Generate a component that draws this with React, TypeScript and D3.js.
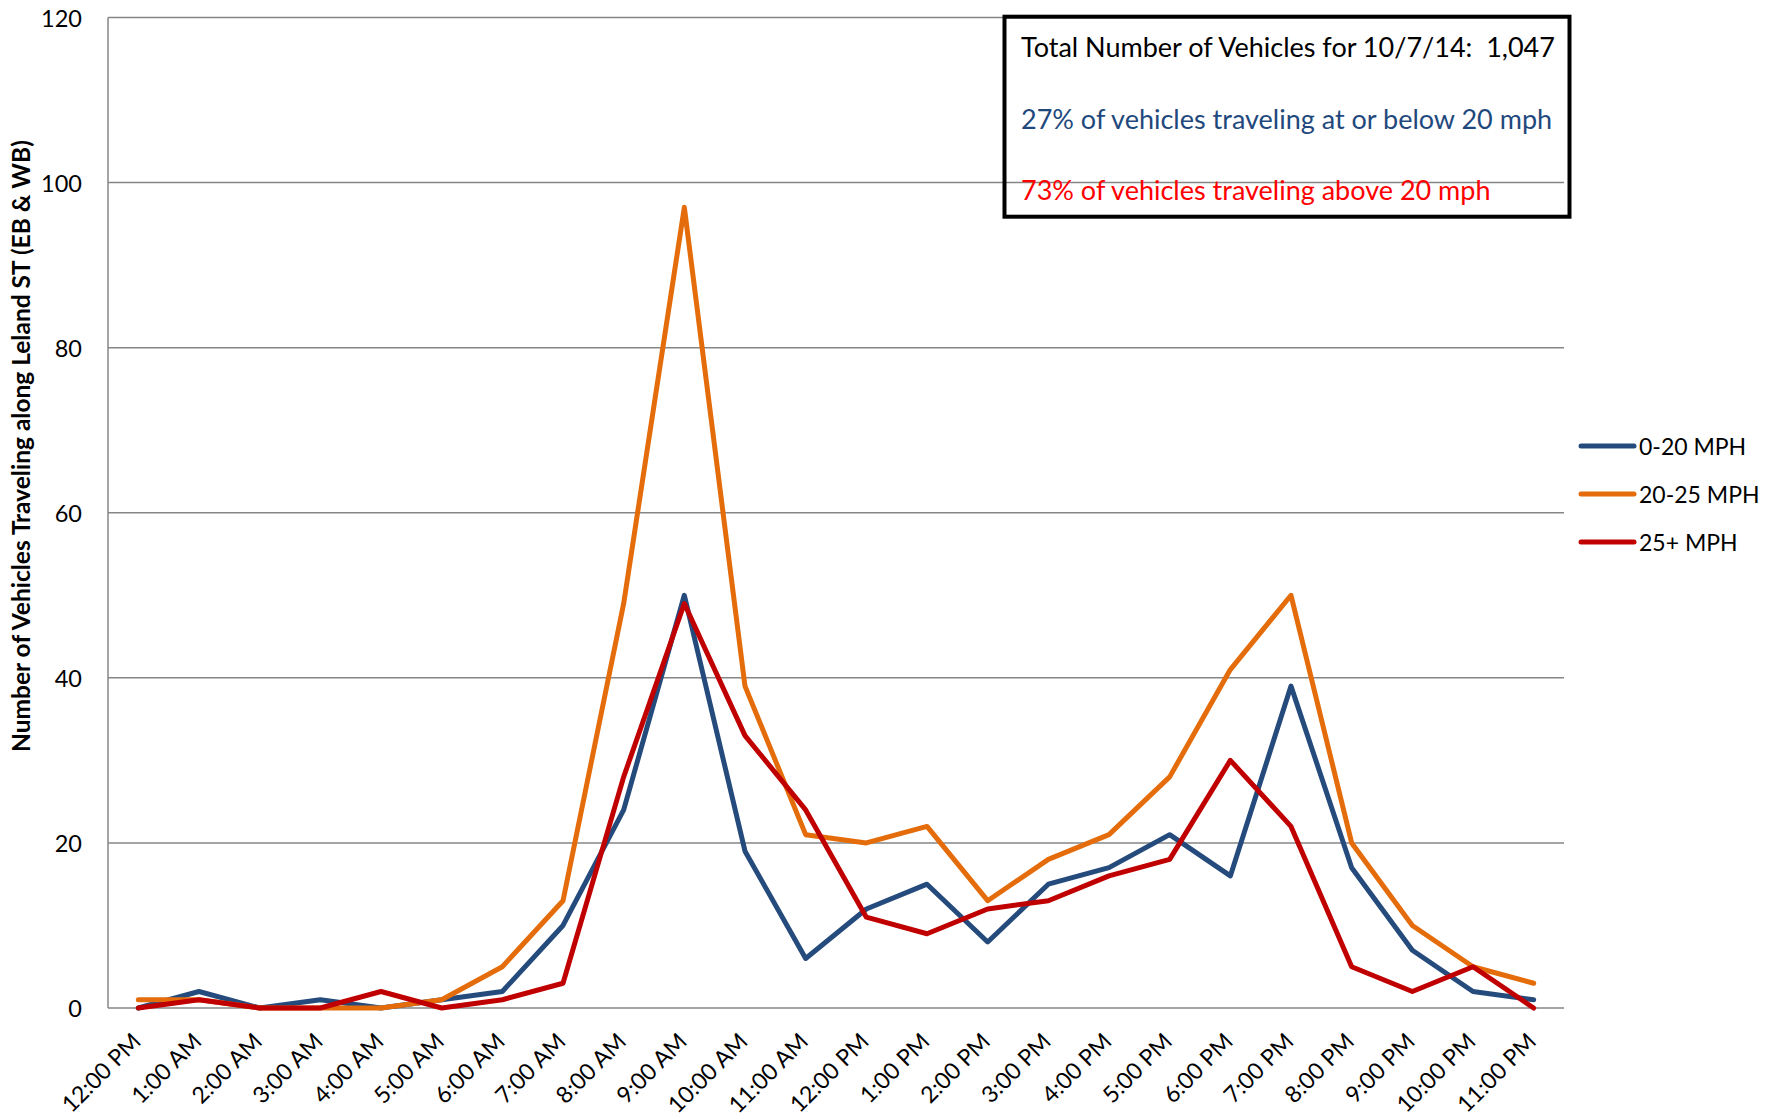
import React from "react";
import * as d3 from "d3";

const categories = ["12:00 PM","1:00 AM","2:00 AM","3:00 AM","4:00 AM","5:00 AM","6:00 AM","7:00 AM","8:00 AM","9:00 AM","10:00 AM","11:00 AM","12:00 PM ","1:00 PM","2:00 PM","3:00 PM","4:00 PM","5:00 PM","6:00 PM","7:00 PM","8:00 PM","9:00 PM","10:00 PM","11:00 PM"];
const slow = [0,2,0,1,0,1,2,10,24,50,19,6,12,15,8,15,17,21,16,39,17,7,2,1];
const mid = [1,1,0,0,0,1,5,13,49,97,39,21,20,22,13,18,21,28,41,50,20,10,5,3];
const fast = [0,1,0,0,2,0,1,3,28,49,33,24,11,9,12,13,16,18,30,22,5,2,5,0];
const seriesNames = ["0-20 MPH","20-25 MPH","25+ MPH"];
const seriesColors = ["#254A7C","#E46C0A","#C00000"];
const yTicks = [0,20,40,60,80,100,120];
const boxLines = ["Total Number of Vehicles for 10/7/14:  1,047","27% of vehicles traveling at or below 20 mph","73% of vehicles traveling above 20 mph"];
const boxColors = ["#000000","#1F497D","#FF0000"];

const FONT = "Lato, 'Open Sans', sans-serif";

export default function App() {
  const W = 1773, H = 1119;
  const left = 108, right = 1564, top = 17.5, bottom = 1008;
  const x = d3.scalePoint<string>().domain(categories).range([left, right]).padding(0.5);
  const y = d3.scaleLinear().domain([0, 120]).range([bottom, top]);
  const line = d3.line<number>().x((_, i) => x(categories[i]) as number).y(d => y(d));
  const all = [slow, mid, fast];

  return (
    <svg width={W} height={H} style={{ position: "absolute", left: 0, top: 0, background: "#fff" }} fontFamily={FONT}>
      <rect width={W} height={H} fill="#fff" />
      {yTicks.map(t => (
        <g key={t}>
          <line x1={left} x2={right} y1={y(t)} y2={y(t)} stroke="#868686" strokeWidth={1.5} />
          <text x={82} y={y(t)} textAnchor="end" dominantBaseline="central" fontSize={23.5} fill="#000">{t}</text>
        </g>
      ))}
      <line x1={left} x2={left} y1={top} y2={bottom} stroke="#868686" strokeWidth={1.5} />
      {categories.map(c => {
        const px = x(c) as number;
        return (
          <text key={c} transform={`translate(${px + 4},${1043}) rotate(-45)`} textAnchor="end" fontSize={23} fill="#000">{c.trim()}</text>
        );
      })}
      <text transform={`translate(30,446) rotate(-90)`} textAnchor="middle" fontSize={24.5} fontWeight="bold" fill="#000">Number of Vehicles Traveling along Leland ST (EB &amp; WB)</text>
      {all.map((s, i) => (
        <path key={i} d={line(s) as string} fill="none" stroke={seriesColors[i]} strokeWidth={5} strokeLinejoin="round" strokeLinecap="round" />
      ))}
      <rect x={1004.5} y={16.7} width={565} height={200} fill="none" stroke="#000" strokeWidth={4} />
      {boxLines.map((t, i) => (
        <text key={i} x={1021} y={57 + i * 71.5} fontSize={27} fill={boxColors[i]} style={{ whiteSpace: "pre" }}>{t}</text>
      ))}
      {seriesNames.map((n, i) => (
        <g key={n}>
          <line x1={1581} x2={1634} y1={446 + i * 48} y2={446 + i * 48} stroke={seriesColors[i]} strokeWidth={5} strokeLinecap="round" />
          <text x={1639} y={446 + i * 48} dominantBaseline="central" fontSize={23} fill="#000">{n}</text>
        </g>
      ))}
    </svg>
  );
}
